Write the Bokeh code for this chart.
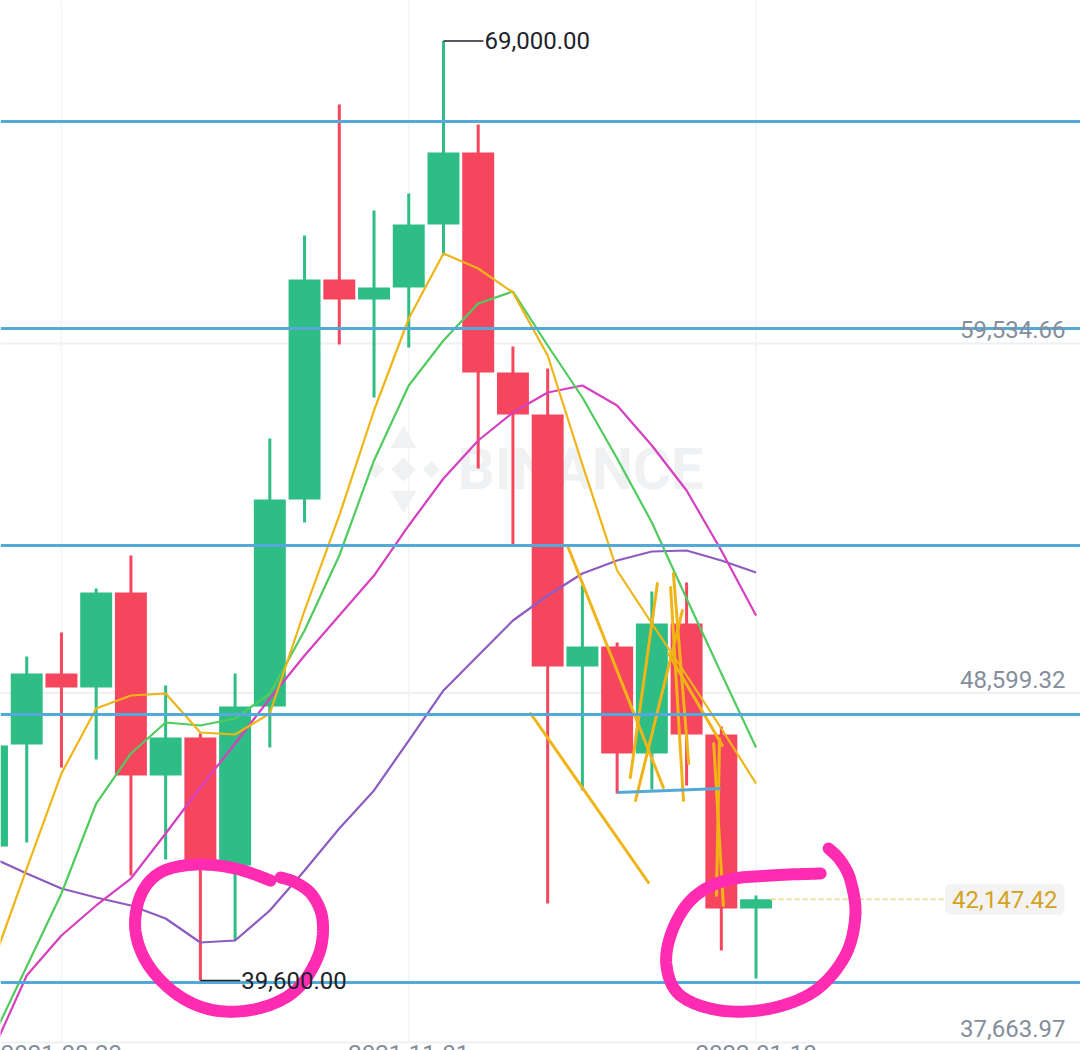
import numpy as np
from bokeh.plotting import figure
from bokeh.models import Range1d, ColumnDataSource, Label
from bokeh.embed import file_html
from bokeh.resources import INLINE
from bokeh.core.properties import value

# ---------------- data (weekly BTC/USDT) ----------------
weeks = ["2021-08-09", "2021-08-16", "2021-08-23", "2021-08-30", "2021-09-06",
         "2021-09-13", "2021-09-20", "2021-09-27", "2021-10-04", "2021-10-11",
         "2021-10-18", "2021-10-25", "2021-11-01", "2021-11-08", "2021-11-15",
         "2021-11-22", "2021-11-29", "2021-12-06", "2021-12-13", "2021-12-20",
         "2021-12-27", "2022-01-03", "2022-01-10"]
opens = [43796, 46987, 49209, 48771, 51743, 46017, 47206, 43200, 48176, 54653,
         61537, 60911, 61287, 63258, 65511, 58627, 57313, 49428, 50054, 46706,
         50773, 47300, 41856]
highs = [48144, 49741, 50492, 51868, 52901, 48833, 47331, 49209, 56562, 62914,
         67013, 63696, 64228, 69000, 66387, 59441, 58752, 51962, 50179, 51775,
         52056, 47550, 42262]
lows = [42779, 43921, 46267, 46518, 42888, 43389, 39600, 40854, 46893, 53934,
        59503, 57845, 59409, 62288, 55623, 53214, 42012, 45548, 45454, 45579,
        45704, 40542, 39665]
closes = [46956, 49209, 48771, 51743, 46017, 47206, 43200, 48176, 54653, 61537,
          60911, 61287, 63258, 65511, 58627, 57313, 49428, 50054, 46706, 50773,
          47300, 41856, 42147.42]

ma_yellow = [40072, 43107, 46080, 48114, 48520, 48583, 47363, 47300, 47957, 51180,
             54153, 57438, 60317, 62351, 61881, 61130, 59159, 55748, 52432, 50773,
             49146, 47488, 45767]
ma_green = [37757, 40041, 42325, 45141, 46706, 47676, 47582, 47801, 48583, 50554,
            52901, 55874, 58220, 59628, 60786, 61162, 59472, 57845, 55936, 53934,
            51556, 49209, 46893]
ma_magenta = [37350, 39759, 41011, 41950, 42794, 44202, 45642, 47019, 48427, 49772,
              51024, 52275, 53840, 55310, 56499, 57376, 58001, 58220, 57595, 56343,
              54935, 53057, 51024]
ma_purple = [43451, 42951, 42481, 42200, 41950, 41543, 40792, 40854, 41793, 43045,
             44359, 45548, 47112, 48677, 49772, 50867, 51649, 52338, 52745, 53026,
             53057, 52745, 52369]

price_ticks = [59534.66, 48599.32, 37663.97]
date_ticks = ["2021-08-23", "2021-11-01", "2022-01-10"]
last_price = 42147.42
ath_price = 69000.00
low_price = 39600.00

# user-drawn horizontal lines
hlines = [66481, 60004, 53214, 47926, 39540]

# user-drawn yellow strokes (week index, price)
scrib_x0 = [15.51, 16.57, 19.16, 19.88, 19.54, 19.62, 19.48, 20.78, 20.95]
scrib_y0 = [47957, 53214, 52025, 51180, 51900, 52338, 49835, 47019, 47175]
scrib_x1 = [18.90, 19.33, 18.38, 18.53, 19.91, 20.06, 21.03, 21.06, 20.86]
scrib_y1 = [42669, 45642, 45955, 45235, 45235, 46393, 46956, 41950, 42262]

GREEN = "#2EBD85"
RED = "#F6465D"

idx = list(range(len(weeks)))
X0, X1 = 0.245, 31.342
p = figure(width=1080, height=1050, x_axis_type=None, y_axis_type=None,
           x_range=Range1d(X0, X1), y_range=Range1d(37412.5, 70267),
           output_backend="svg", toolbar_location=None, min_border=0)
p.outline_line_color = None
p.xgrid.visible = False
p.ygrid.visible = False
p.background_fill_color = "white"

# grid lines
for t in price_ticks:
    p.line([X0, X1], [t, t], line_color="#EEF0F2", line_width=2)
for d in date_ticks:
    xi = weeks.index(d)
    p.line([xi, xi], [37663.97, 70267], line_color="#F3F4F6", line_width=1.5)

# watermark
WM = "#EFF1F3"
p.scatter([11.85], [55592], marker="square", size=17, angle=np.pi / 4,
          fill_color=WM, line_color=None)
for dx in [-1.0, 1.0]:
    p.scatter([11.85 + dx * 0.8], [55592], marker="square", size=12, angle=np.pi / 4,
              fill_color=WM, line_color=None)
for dy in [-900, 900]:
    p.scatter([11.85], [55592 + dy], marker="triangle", size=26,
              angle=0 if dy > 0 else np.pi, fill_color=WM, line_color=None)
p.text([16.95], [55592], text=["BINANCE"], text_align="center", text_baseline="middle",
       text_font=value("Roboto"), text_font_style="bold", text_font_size="58px",
       text_color=WM)

# candles
src = ColumnDataSource(dict(
    x=idx, o=opens, h=highs, l=lows, c=closes,
    top=[max(a, b) for a, b in zip(opens, closes)],
    bot=[min(a, b) for a, b in zip(opens, closes)],
    col=[GREEN if c >= o else RED for o, c in zip(opens, closes)]))
p.segment(x0="x", y0="h", x1="x", y1="l", line_color="col", line_width=3, source=src)
p.vbar(x="x", top="top", bottom="bot", width=0.92, fill_color="col", line_color=None,
       source=src)

# moving averages
p.line(idx, ma_purple, line_color="#8E5BC0", line_width=2.2)
p.line(idx, ma_magenta, line_color="#D63FC0", line_width=2.2)
p.line(idx, ma_green, line_color="#4FCB5F", line_width=2.2)
p.line(idx, ma_yellow, line_color="#EDB516", line_width=2.2)

# yellow hand-drawn strokes
p.segment(x0=scrib_x0, y0=scrib_y0, x1=scrib_x1, y1=scrib_y1, line_color="#F0B416",
          line_width=3, line_cap="round")

# user horizontal lines
for h in hlines:
    p.line([X0, X1], [h, h], line_color="#55A9D9", line_width=3)
p.line([18.01, 20.98], [45485, 45610], line_color="#55A9D9", line_width=3)

# last price dashed line + tag
p.line([22.42, 27.6], [last_price, last_price], line_color="#F1DC9A", line_width=2,
       line_dash="5 3")
p.add_layout(Label(x=X1, y=last_price, x_offset=-16, text=f"{last_price:,.2f}",
                   text_align="right", text_baseline="middle", text_font="Roboto",
                   text_font_size="24px", text_color="#D4A21D",
                   background_fill_color="#F3F3F3", background_fill_alpha=1.0,
                   padding=7, border_radius=6))

# price axis labels
for t in price_ticks:
    p.add_layout(Label(x=X1, y=t, x_offset=-15, y_offset=5, text=f"{t:,.2f}",
                       text_align="right", text_baseline="bottom", text_font="Roboto",
                       text_font_size="24px", text_color="#848E9C"))

# date labels (cut off at the bottom edge, as in the screenshot)
for d in date_ticks:
    p.add_layout(Label(x=weeks.index(d), y=37663.97, y_offset=-3, text=d,
                       text_align="center", text_baseline="top", text_font="Roboto",
                       text_font_size="24px", text_color="#848E9C"))

# high / low markers
hi_i = highs.index(ath_price)
lo_i = lows.index(low_price)
p.line([hi_i, hi_i + 1.15], [ath_price, ath_price], line_color="#1E2329", line_width=1.5)
p.add_layout(Label(x=hi_i + 1.18, y=ath_price, text=f"{ath_price:,.2f}",
                   text_align="left", text_baseline="middle", text_font="Roboto",
                   text_font_size="24px", text_color="#1E2329"))
p.line([lo_i, lo_i + 1.15], [low_price, low_price], line_color="#1E2329", line_width=1.5)
p.add_layout(Label(x=lo_i + 1.18, y=low_price, text=f"{low_price:,.2f}",
                   text_align="left", text_baseline="middle", text_font="Roboto",
                   text_font_size="24px", text_color="#1E2329"))


# hand-drawn pink circles
def smooth(px, py, n=12):
    P = list(zip(np.asarray(px, float), np.asarray(py, float)))
    P = [P[0]] + P + [P[-1]]
    xs, ys = [], []
    for k in range(1, len(P) - 2):
        p0, p1, p2, p3 = map(np.array, (P[k - 1], P[k], P[k + 1], P[k + 2]))
        for t in np.linspace(0, 1, n, endpoint=False):
            pt = 0.5 * ((2 * p1) + (-p0 + p2) * t + (2 * p0 - 5 * p1 + 4 * p2 - p3) * t ** 2
                        + (-p0 + 3 * p1 - 3 * p2 + p3) * t ** 3)
            xs.append(pt[0]); ys.append(pt[1])
    xs.append(P[-2][0]); ys.append(P[-2][1])
    return xs, ys


circ1_x = [8.02, 7.01, 5.86, 4.85, 4.28, 4.13, 4.51, 5.37, 6.43, 7.67, 8.74, 9.40, 9.52, 9.23, 8.74, 8.31]
circ1_y = [42732, 43107, 43233, 42982, 42263, 41167, 40072, 39134, 38664, 38727, 39290, 40385, 41480, 42263, 42670, 42826]
circ2_x = [23.86, 22.42, 21.12, 20.17, 19.59, 19.42, 19.82, 20.98, 22.42, 23.71, 24.57, 24.86, 24.72, 24.43, 24.09]
circ2_y = [42951, 42889, 42732, 42169, 41167, 40072, 39134, 38664, 38727, 39290, 40385, 41637, 42732, 43358, 43734]
for cx, cy in [(circ1_x, circ1_y), (circ2_x, circ2_y)]:
    sx, sy = smooth(cx, cy)
    p.line(sx, sy, line_color="#FF2BB0", line_width=12, line_cap="round", line_join="round")

open("out.html", "w").write(file_html(p, INLINE))
